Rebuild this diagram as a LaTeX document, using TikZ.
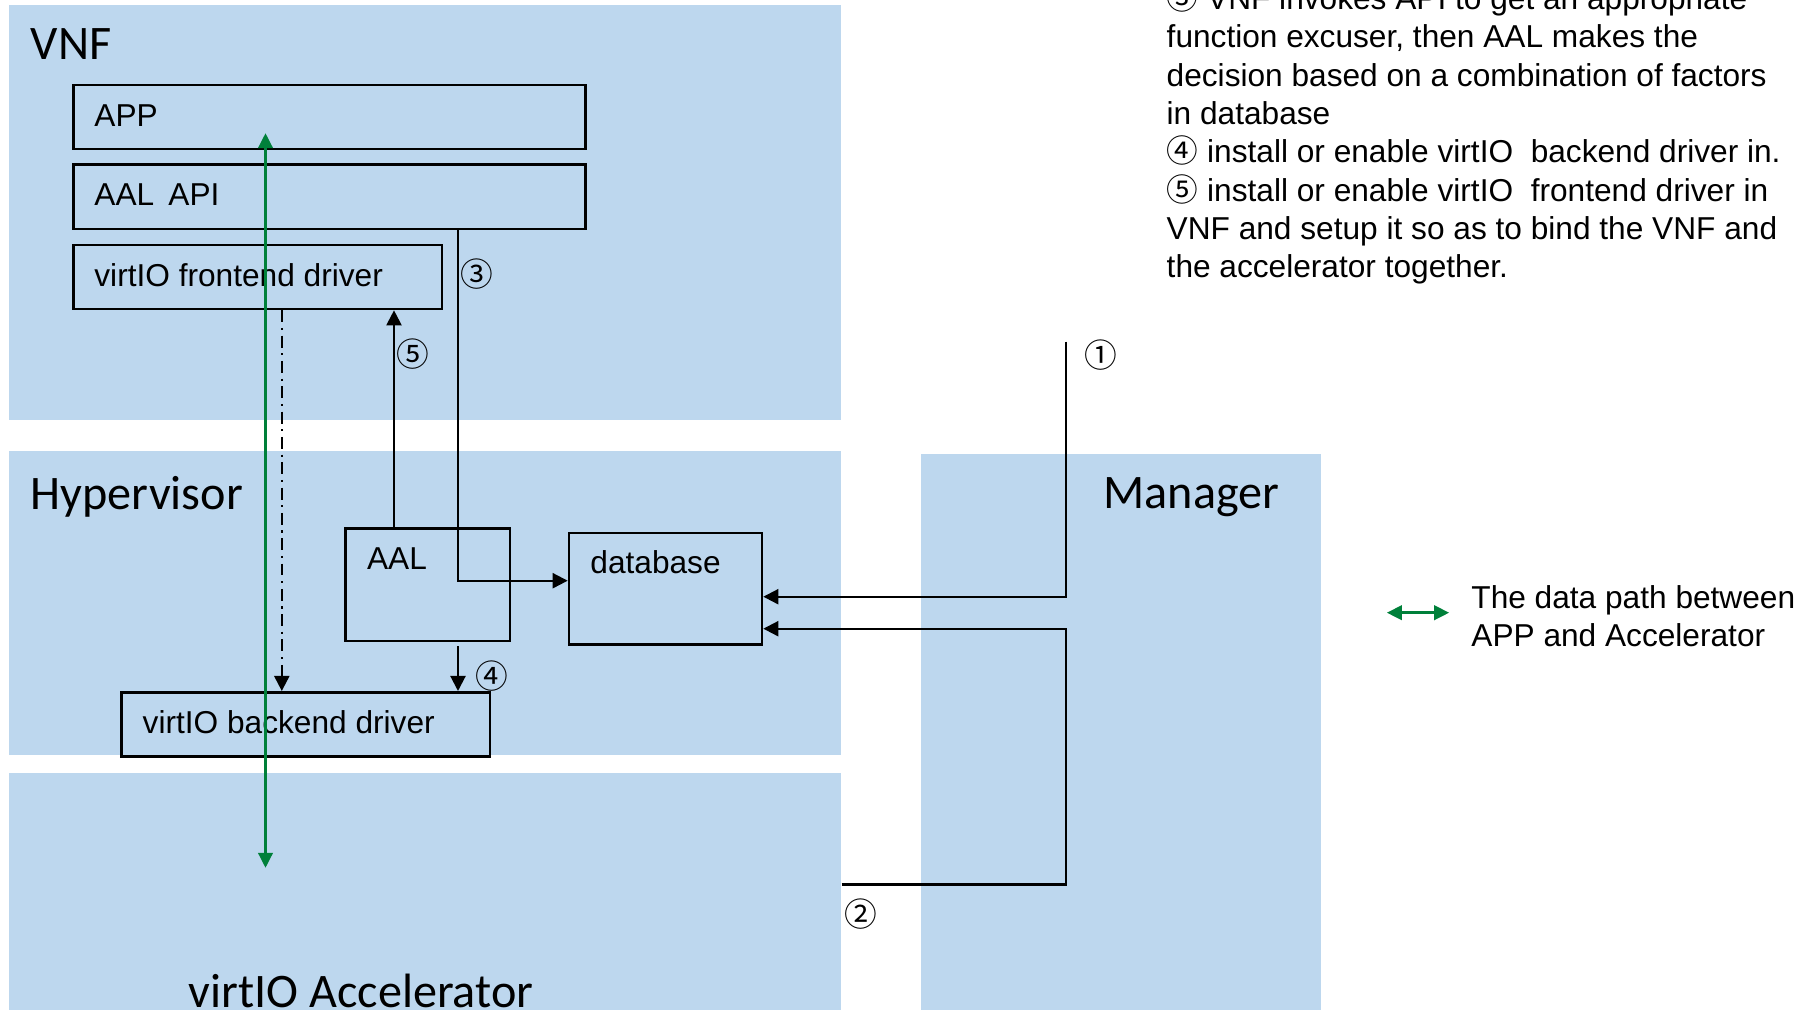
\documentclass[tikz,border=0pt]{standalone}
\usepackage{fontspec}
\setmainfont{Liberation Sans}
\newfontfamily\titlefont{Carlito}
\newfontfamily\cjk{Noto Sans CJK JP}
\usetikzlibrary{arrows.meta,fit}
\definecolor{panelblue}{RGB}{189,215,238}
\definecolor{pathgreen}{RGB}{0,128,58}

\begin{document}
\begin{tikzpicture}[x=0.01cm,y=-0.01cm,
  panel/.style={fill=panelblue, draw=none, inner sep=0pt},
  box/.style={draw=black, line width=0.75pt, inner sep=0pt},
  txt/.style={inner sep=0pt, anchor=base west, font=\fontsize{9}{10.9}\selectfont},
  paneltitle/.style={inner sep=0pt, anchor=base west, font=\titlefont\fontsize{13.7}{16}\selectfont},
  circnum/.style={inner sep=0pt, font=\cjk\fontsize{9.3}{11}\selectfont},
  conn/.style={draw=black, line width=0.6pt},
  arrowtip/.style={-{Triangle[length=4.3pt,width=4.3pt]}},
  dashdot/.style={dash pattern=on 3.4pt off 1.6pt on 0.6pt off 1.6pt},
  dataflow/.style={draw=pathgreen, line width=1pt,
    {Triangle[length=4.3pt,width=4pt]}-{Triangle[length=4.3pt,width=4pt]}},
]
\useasboundingbox (0,0) rectangle (1815,1009);

% layer panels
\node[panel, fit={(9,5) (841,420)}] (vnf) {};
\node[panel, fit={(9,451) (841,755)}] (hyp) {};
\node[panel, fit={(9,773) (841,1012)}] (acc) {};
\node[panel, fit={(921,454) (1321,1012)}] (mgr) {};

\node[paneltitle] (vnfT) at (30,60) {VNF};
\node[paneltitle] (hypT) at (30,509) {Hypervisor};
\node[paneltitle] (mgrT) at (1103,508) {Manager};
\node[paneltitle] (accT) at (188,1007) {virtIO Accelerator};

% component boxes
\node[box, fit={(73.7,85) (585.6,149)}] (app) {};
\node[txt] (appT) at (93.7,126) {APP};
\node[box, fit={(73.7,164.7) (585.6,229)}] (api) {};
\node[txt] (apiT) at (93.7,205.7) {AAL\hspace{0.45em}API};
\node[box, fit={(73.7,245) (442,309)}] (front) {};
\node[txt] (frontT) at (93.7,286) {virtIO frontend driver};
\node[box, fit={(345.8,528.7) (510,641)}] (aal) {};
\node[txt] (aalT) at (366.4,569.3) {AAL};
\node[box, fit={(569,533) (762,644.7)}] (db) {};
\node[txt] (dbT) at (589.7,573.3) {database};
\node[box, fit={(121.4,692.3) (490,756.7)}] (back) {};
\node[txt] (backT) at (142,733.3) {virtIO backend driver};

% helper coordinates for vertical/horizontal runs
\coordinate (x3) at (458,0);
\coordinate (x5) at (394,0);
\coordinate (xd) at (281.8,0);
\coordinate (c3) at (458,580.7);
\coordinate (m1) at (1066,341.5);
\coordinate (k1) at (1066,596.7);
\coordinate (k2) at (1066,628.7);
\coordinate (y2) at (0,884.5);
\coordinate (gtop) at (265.5,133);
\coordinate (gbot) at (265.5,868);
\coordinate (la) at (1386.7,612.7);
\coordinate (lb) at (1449.3,612.7);

% control connectors
\draw[conn, arrowtip] (api.south -| c3) -- (c3) -- (c3 -| db.west);
\draw[conn, arrowtip] (aal.north -| x5) -- (front.south -| x5);
\draw[conn, arrowtip, dashdot] (front.south -| xd) -- (back.north -| xd);
\draw[conn, arrowtip, shorten <=0.04cm] (aal.south -| x3) -- (back.north -| x3);
\draw[conn, arrowtip] (m1) -- (k1) -- (k1 -| db.east);
\draw[conn, arrowtip] (acc.east |- y2) -- (k2 |- y2) -- (k2) -- (k2 -| db.east);

% data path
\draw[dataflow] (gtop) -- (gbot);

% step numbers
\node[circnum] (n1) at (1101,355) {①};
\node[circnum] (n2) at (861,914) {②};
\node[circnum] (n3) at (477,274) {③};
\node[circnum] (n4) at (492,676) {④};
\node[circnum] (n5) at (413,354) {⑤};

% legend
\draw[dataflow] (la) -- (lb);
\node[txt] (lg1) at (1470.7,608) {The data path between};
\node[txt] (lg2) at (1470.7,646) {APP and Accelerator};

% step notes
\node[txt] (t1) at (1166,9.5) {{\cjk ③} VNF invokes API to get an appropriate};
\node[txt] (t2) at (1166,47.5) {function excuser, then AAL makes the};
\node[txt] (t3) at (1166,86) {decision based on a combination of factors};
\node[txt] (t4) at (1166,124.3) {in database};
\node[txt] (t5) at (1166,162.5) {{\cjk ④} install or enable virtIO\ \ backend driver in.};
\node[txt] (t6) at (1166,201) {{\cjk ⑤} install or enable virtIO\ \ frontend driver in};
\node[txt] (t7) at (1166,239.5) {VNF and setup it so as to bind the VNF and};
\node[txt] (t8) at (1166,277.5) {the accelerator together.};
\end{tikzpicture}
\end{document}
